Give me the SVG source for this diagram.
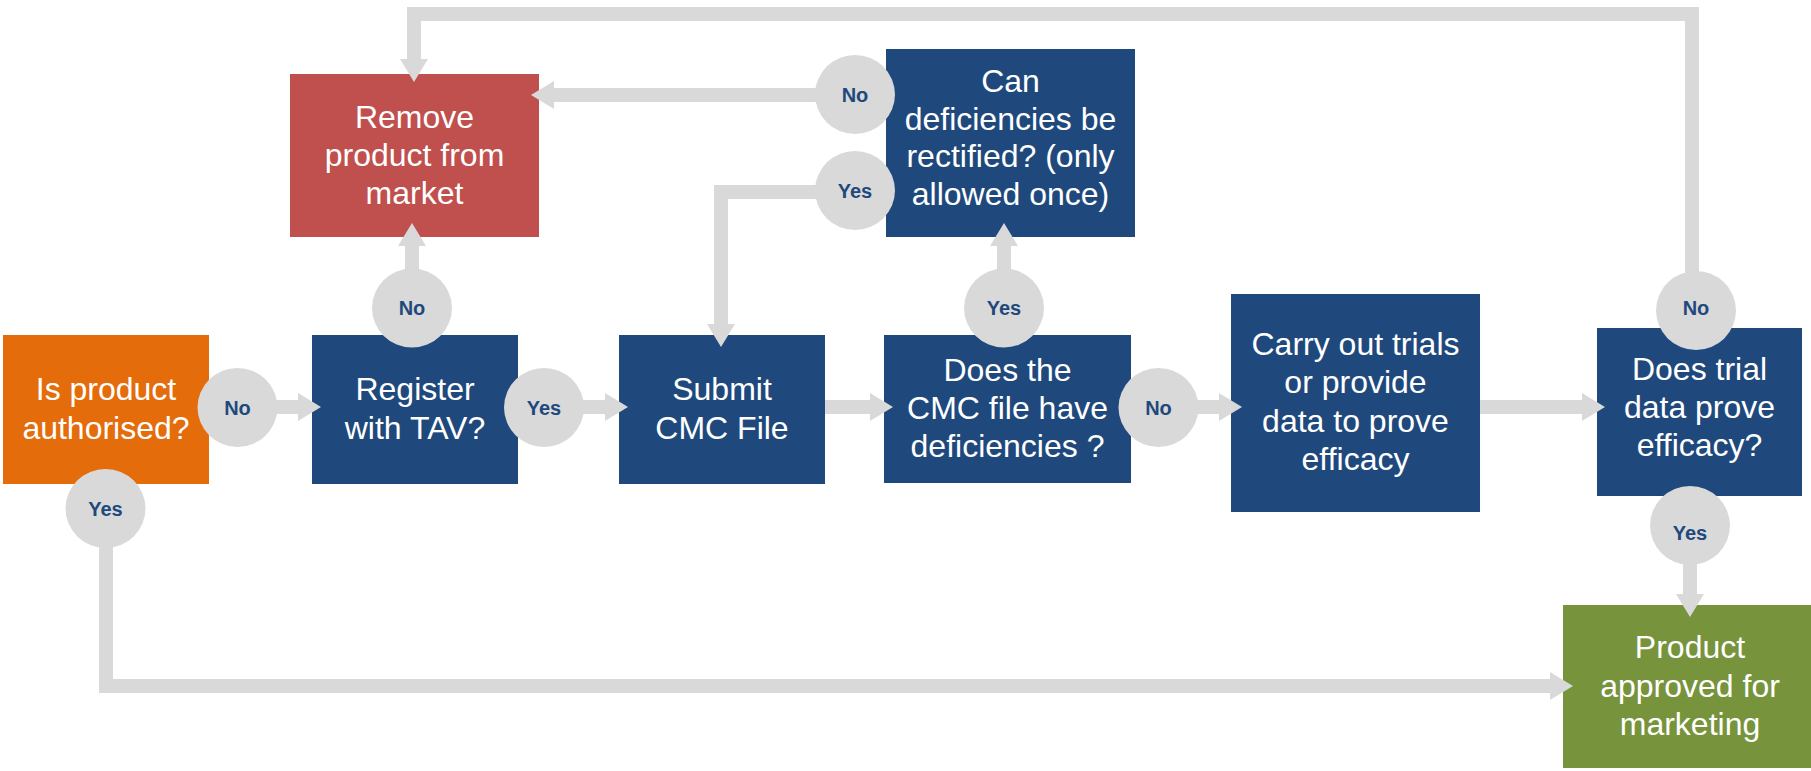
<svg xmlns="http://www.w3.org/2000/svg" width="1811" height="771" viewBox="0 0 1811 771">
<style>
.box text{font-family:"Liberation Sans",Arial,sans-serif;font-size:32px;fill:#FFFFFF;text-anchor:middle}
.blue{fill:#1F497D}
.conn{fill:none;stroke:#D9D9D9;stroke-width:14;stroke-linejoin:miter;marker-end:url(#ah)}
.lbl ellipse{fill:#D9D9D9}
.lbl text{font-family:"Liberation Sans",Arial,sans-serif;font-size:20px;font-weight:bold;fill:#1F497D;text-anchor:middle}
</style>
<defs>
<marker id="ah" viewBox="0 0 23 28" refX="0" refY="14" markerUnits="userSpaceOnUse" markerWidth="23" markerHeight="28" orient="auto">
<path d="M0,0 L23,14 L0,28 Z" fill="#D9D9D9"/>
</marker>
</defs>
<rect width="1811" height="771" fill="#FFFFFF"/>
<g id="n-authorised" class="box">
<rect x="3" y="335" width="206" height="149" fill="#E46C0A"/>
<text x="106" y="400">Is product</text><text x="106" y="439">authorised?</text>
</g>
<g id="n-register" class="box">
<rect class="blue" x="312" y="335" width="206" height="149"/>
<text x="415" y="400">Register</text><text x="415" y="439">with TAV?</text>
</g>
<g id="n-submit" class="box">
<rect class="blue" x="619" y="335" width="206" height="149"/>
<text x="722" y="400">Submit</text><text x="722" y="439">CMC File</text>
</g>
<g id="n-deficiencies" class="box">
<rect class="blue" x="884" y="335" width="247" height="148"/>
<text x="1007.5" y="381">Does the</text><text x="1007.5" y="419">CMC file have</text><text x="1007.5" y="457">deficiencies ?</text>
</g>
<g id="n-trials" class="box">
<rect class="blue" x="1231" y="294" width="249" height="218"/>
<text x="1355.5" y="355">Carry out trials</text><text x="1355.5" y="393">or provide</text><text x="1355.5" y="432">data to prove</text><text x="1355.5" y="470">efficacy</text>
</g>
<g id="n-efficacy" class="box">
<rect class="blue" x="1597" y="328" width="205" height="168"/>
<text x="1699.5" y="380">Does trial</text><text x="1699.5" y="418">data prove</text><text x="1699.5" y="456">efficacy?</text>
</g>
<g id="n-approved" class="box">
<rect x="1563" y="605" width="250" height="163" fill="#77933C"/>
<text x="1690" y="658">Product</text><text x="1690" y="697">approved for</text><text x="1690" y="735">marketing</text>
</g>
<g id="n-remove" class="box">
<rect x="290" y="74" width="249" height="163" fill="#C0504D"/>
<text x="414.5" y="128">Remove</text><text x="414.5" y="166">product from</text><text x="414.5" y="204">market</text>
</g>
<g id="n-rectify" class="box">
<rect class="blue" x="886" y="49" width="249" height="188"/>
<text x="1010.5" y="92">Can</text><text x="1010.5" y="129.5">deficiencies be</text><text x="1010.5" y="167">rectified? (only</text><text x="1010.5" y="204.5">allowed once)</text>
</g>
<g id="connectors">
<path class="conn" d="M209,407 H298"/>
<path class="conn" d="M518,407 H605"/>
<path class="conn" d="M825,407 H870"/>
<path class="conn" d="M1131,407 H1219"/>
<path class="conn" d="M1480,407 H1582"/>
<path class="conn" d="M412,335 V246"/>
<path class="conn" d="M1004,335 V246"/>
<path class="conn" d="M886,95 H554"/>
<path class="conn" d="M886,192 H721 V324"/>
<path class="conn" d="M1692,290 V14 H414 V59"/>
<path class="conn" d="M1690,496 V594"/>
<path class="conn" d="M106,484 V686 H1550"/>
</g>
<g id="labels" class="lbl">
<g><ellipse cx="237.5" cy="407.5" rx="40" ry="39.5"/><text x="237.5" y="414.5">No</text></g>
<g><ellipse cx="544" cy="407.5" rx="40" ry="39.5"/><text x="544" y="414.5">Yes</text></g>
<g><ellipse cx="412" cy="308" rx="40" ry="39.5"/><text x="412" y="315">No</text></g>
<g><ellipse cx="1004" cy="308" rx="40" ry="39.5"/><text x="1004" y="315">Yes</text></g>
<g><ellipse cx="1158.5" cy="407.5" rx="40" ry="39.5"/><text x="1158.5" y="414.5">No</text></g>
<g><ellipse cx="855" cy="94.5" rx="40" ry="39.5"/><text x="855" y="101.5">No</text></g>
<g><ellipse cx="855" cy="190.5" rx="40" ry="39.5"/><text x="855" y="197.5">Yes</text></g>
<g><ellipse cx="1696" cy="310.5" rx="40" ry="39.5"/><text x="1696" y="315">No</text></g>
<g><ellipse cx="1690" cy="525.5" rx="40" ry="39.5"/><text x="1690" y="540">Yes</text></g>
<g><ellipse cx="105.5" cy="508.5" rx="40" ry="39.5"/><text x="105.5" y="515.5">Yes</text></g>
</g>
</svg>
